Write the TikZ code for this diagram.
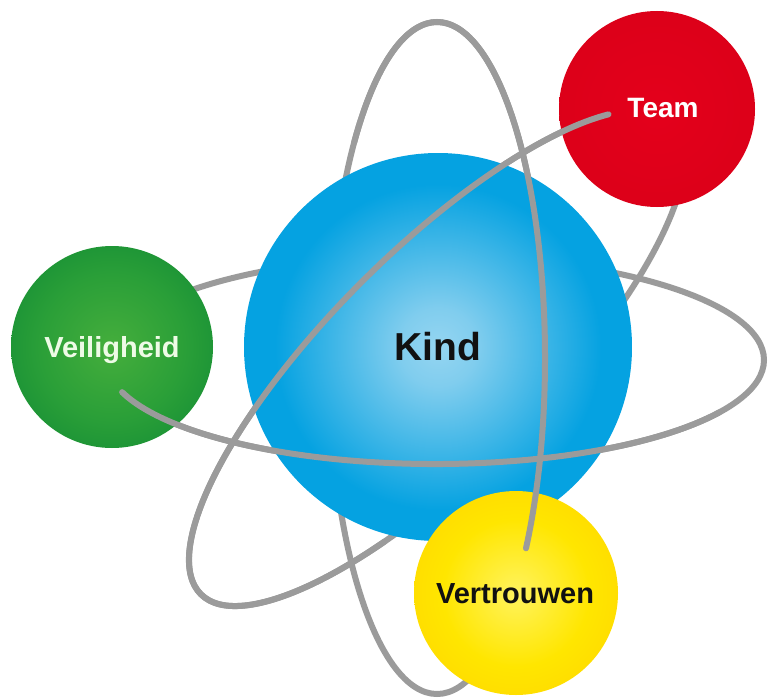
\documentclass[tikz,border=0pt]{standalone}
\usepackage{fontspec}
\setmainfont{Liberation Sans}
\definecolor{orbitgray}{HTML}{9B9B9B}
\definecolor{bluec}{HTML}{95D5F1}
\definecolor{bluec2}{HTML}{80CDEE}
\definecolor{bluem}{HTML}{05A2E1}
\definecolor{bluee}{HTML}{0A90D2}
\definecolor{greenc}{HTML}{45AE3C}
\definecolor{greenm}{HTML}{2A9F38}
\definecolor{greene}{HTML}{0F8934}
\definecolor{redc}{HTML}{E4001B}
\definecolor{redm}{HTML}{DC0019}
\definecolor{rede}{HTML}{C60018}
\definecolor{yelc}{HTML}{FFF35E}
\definecolor{yelm}{HTML}{FFE600}
\definecolor{yele}{HTML}{FFD400}
\definecolor{veiltxt}{HTML}{EEFBE6}
\definecolor{darktxt}{HTML}{111111}
\pgfdeclareradialshading{bluesph}{\pgfpointorigin}{color(0bp)=(bluec); color(5bp)=(bluec2); color(21bp)=(bluem); color(32bp)=(bluem); color(35bp)=(bluee); color(50bp)=(bluee)}
\pgfdeclareradialshading{greensph}{\pgfpointorigin}{color(0bp)=(greenc); color(18bp)=(greenm); color(35bp)=(greene); color(50bp)=(greene)}
\pgfdeclareradialshading{redsph}{\pgfpointorigin}{color(0bp)=(redc); color(26bp)=(redm); color(35bp)=(rede); color(50bp)=(rede)}
\pgfdeclareradialshading{yelsph}{\pgfpointorigin}{color(0bp)=(yelc); color(18bp)=(yelm); color(35bp)=(yele); color(50bp)=(yele)}
\begin{document}
\begin{tikzpicture}[x=1pt,y=-1pt,
  orbit/.style={draw=orbitgray, line width=6pt, line cap=round},
  sphere/.style={circle, inner sep=0pt, draw=none, shade},
  lbl/.style={anchor=base, inner sep=0pt, font=\bfseries}]
\useasboundingbox (0,0) rectangle (768,698);
\fill[white] (0,0) rectangle (768,698);
% back parts of the three orbits
\draw[orbit] (435,360) ellipse [x radius=329, y radius=104];
\draw[orbit, shift={(437,358)}, rotate=45] (0,0) ellipse [x radius=334, y radius=107];
\draw[orbit] (437,358) ellipse [x radius=108, y radius=336];
% spheres
\node[sphere, shading=bluesph, minimum size=388pt] (kind) at (438,347) {};
\node[sphere, shading=greensph, minimum size=202pt] (veil) at (112,347) {};
\node[sphere, shading=redsph, minimum size=196pt] (team) at (657,109) {};
\node[sphere, shading=yelsph, minimum size=204pt] (vert) at (516,593) {};
% front parts of the orbits
\begin{scope}[shift={(435,360)}]
  \draw[orbit] (162:329 and 104) arc[start angle=162, end angle=30, x radius=329, y radius=104];
\end{scope}
\begin{scope}[shift={(437,358)}, rotate=45]
  \draw[orbit] (-28.5:334 and 107) arc[start angle=-28.5, end angle=-240, x radius=334, y radius=107];
\end{scope}
\begin{scope}[shift={(437,358)}]
  \draw[orbit] (34.5:108 and 336) arc[start angle=34.5, end angle=-140, x radius=108, y radius=336];
\end{scope}
% labels
\node[lbl, font=\bfseries\fontsize{39}{39}\selectfont, text=darktxt] (kindlbl) at (438,360) {Kind};
\node[lbl, font=\bfseries\fontsize{29}{29}\selectfont, text=veiltxt] (veillbl) at (112,357) {Veiligheid};
\node[lbl, font=\bfseries\fontsize{28}{28}\selectfont, text=white] (teamlbl) at (663,118) {Team};
\node[lbl, font=\bfseries\fontsize{29}{29}\selectfont, text=darktxt] (vertlbl) at (515,603) {Vertrouwen};
\end{tikzpicture}
\end{document}
